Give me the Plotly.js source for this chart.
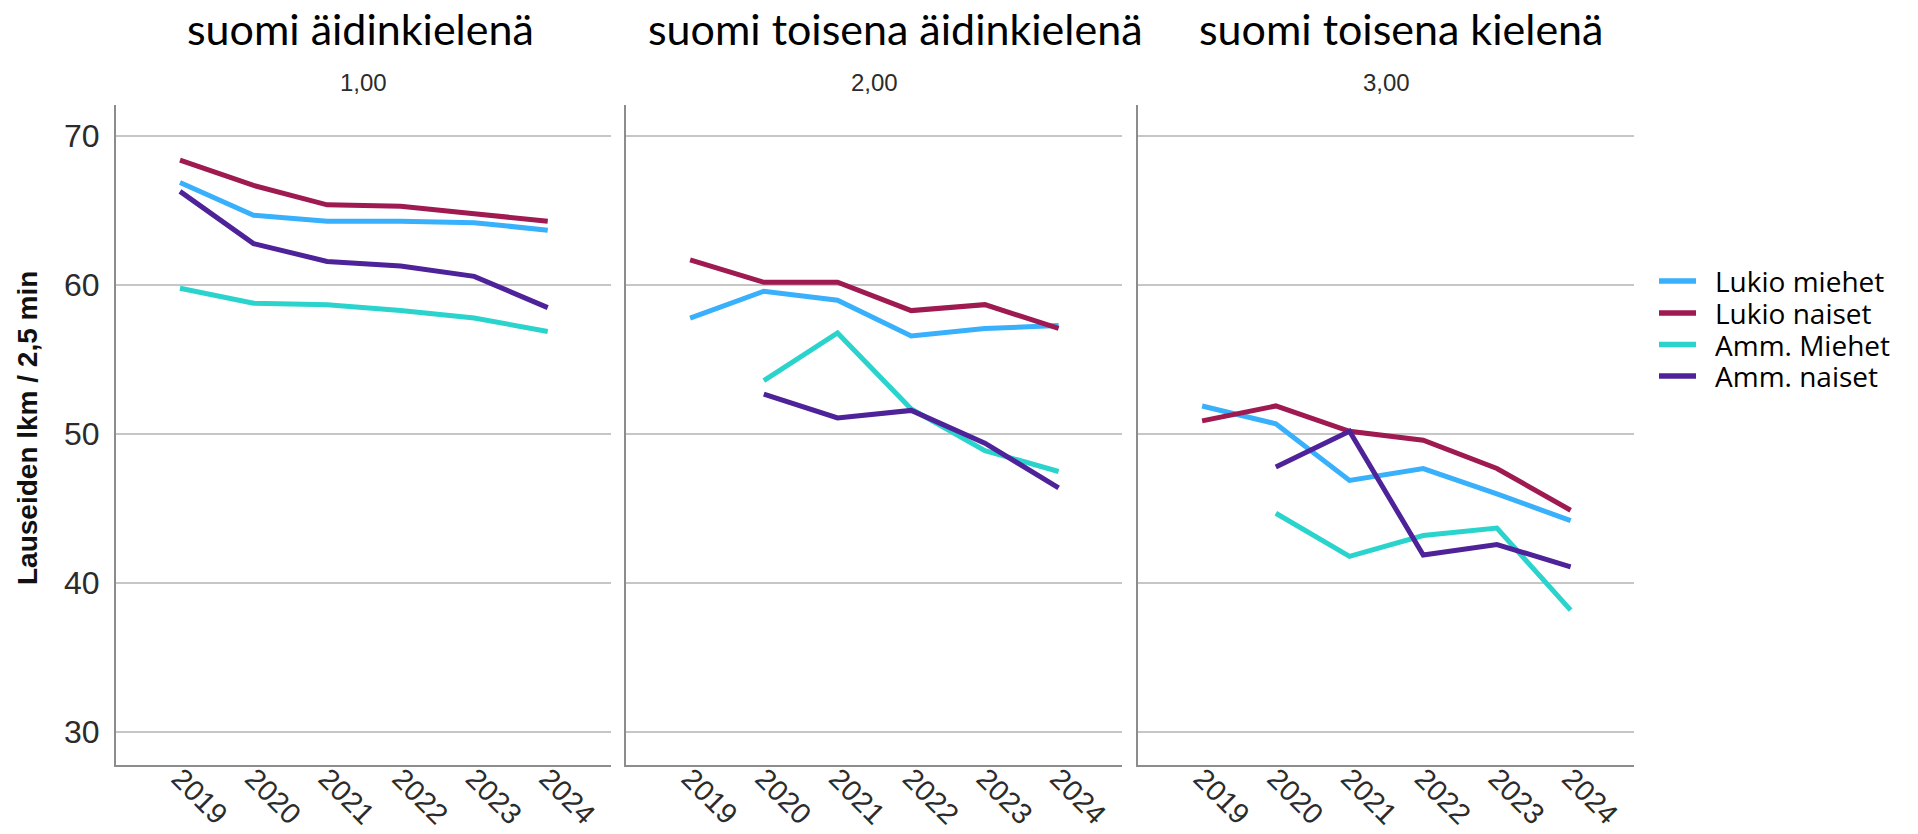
<!DOCTYPE html>
<html>
<head>
<meta charset="utf-8">
<script src="https://cdn.plot.ly/plotly-3.0.1.min.js"></script>
<style>html,body{margin:0;padding:0;background:#fff;}#chart{width:1918px;height:834px;}</style>
</head>
<body>
<div id="chart"></div>
<script>
// ---- data ----
const years = ['2019', '2020', '2021', '2022', '2023', '2024'];
const panelTitles = ['suomi äidinkielenä', 'suomi toisena äidinkielenä', 'suomi toisena kielenä'];
const panelLabels = ['1,00', '2,00', '3,00'];
const seriesNames = ['Lukio miehet', 'Lukio naiset', 'Amm. Miehet', 'Amm. naiset'];
const seriesColors = ['#38b0fb', '#9e1a50', '#2ad4cc', '#4e2298'];
const yTickVals = [30, 40, 50, 60, 70];

// values per panel (panel 1, panel 2, panel 3)
const lukioMiehet = [
  [66.9, 64.7, 64.3, 64.3, 64.2, 63.7],
  [57.8, 59.6, 59.0, 56.6, 57.1, 57.3],
  [51.9, 50.7, 46.9, 47.7, 46.0, 44.2]
];
const lukioNaiset = [
  [68.4, 66.7, 65.4, 65.3, 64.8, 64.3],
  [61.7, 60.2, 60.2, 58.3, 58.7, 57.1],
  [50.9, 51.9, 50.2, 49.6, 47.7, 44.9]
];
const ammMiehet = [
  [59.8, 58.8, 58.7, 58.3, 57.8, 56.9],
  [null, 53.6, 56.8, 51.7, 48.9, 47.5],
  [null, 44.7, 41.8, 43.2, 43.7, 38.2]
];
const ammNaiset = [
  [66.3, 62.8, 61.6, 61.3, 60.6, 58.5],
  [null, 52.7, 51.1, 51.6, 49.4, 46.4],
  [null, 47.8, 50.2, 41.9, 42.6, 41.1]
];
const allSeries = [lukioMiehet, lukioNaiset, ammMiehet, ammNaiset];

// ---- layout helpers (pixel geometry) ----
const W = 1918, H = 834;
const px = x => x / W;
const py = y => 1 - y / H;
const panelPx = [[116, 611], [626, 1122], [1138, 1634]];
const plotTop = 105, plotBottom = 765;
const titleCenters = [360, 895, 1401];

const narrowFam = '"Liberation Sans Narrow", "Arial Narrow", "Liberation Sans", Arial, sans-serif';
const tickFont = {family: narrowFam, size: 32, color: '#2b2b2b'};
const xTickFont = {family: '"Liberation Sans", Arial, sans-serif', size: 29, color: '#2b2b2b'};

const traces = [];
for (let p = 0; p < 3; p++) {
  const sfx = p === 0 ? '' : String(p + 1);
  allSeries.forEach((s, i) => {
    traces.push({
      type: 'scatter', mode: 'lines',
      x: years, y: s[p],
      name: seriesNames[i],
      xaxis: 'x' + sfx, yaxis: 'y' + sfx,
      line: {color: seriesColors[i], width: 5},
      connectgaps: false,
      showlegend: false,
      hoverinfo: 'x+y+name'
    });
  });
}

const layout = {
  width: W, height: H,
  margin: {l: 0, r: 0, t: 0, b: 0},
  paper_bgcolor: '#ffffff', plot_bgcolor: '#ffffff',
  showlegend: false,
  annotations: [],
  shapes: []
};

for (let p = 0; p < 3; p++) {
  const sfx = p === 0 ? '' : String(p + 1);
  layout['xaxis' + sfx] = {
    domain: [px(panelPx[p][0]), px(panelPx[p][1])],
    anchor: 'y' + sfx,
    type: 'category',
    categoryorder: 'array', categoryarray: years,
    range: [-0.87, 5.86],
    showgrid: false, zeroline: false,
    showline: true, linecolor: '#8c8c8c', linewidth: 2,
    ticks: '', tickangle: 45,
    tickfont: xTickFont,
    ticklabelstandoff: -17,
    fixedrange: true
  };
  layout['yaxis' + sfx] = {
    domain: [py(plotBottom), py(plotTop)],
    anchor: 'x' + sfx,
    range: [27.8, 72.1],
    tickvals: yTickVals,
    showticklabels: p === 0,
    tickfont: tickFont,
    ticklabelstandoff: 8,
    showgrid: true, gridcolor: '#c6c6c6', gridwidth: 2,
    zeroline: false,
    showline: true, linecolor: '#8c8c8c', linewidth: 2,
    ticks: '',
    fixedrange: true
  };
  layout.annotations.push({
    xref: 'paper', yref: 'paper', x: px(titleCenters[p]), y: py(28),
    xanchor: 'center', yanchor: 'middle', showarrow: false,
    text: panelTitles[p],
    font: {family: 'Lato, "Open Sans", sans-serif', size: 43, color: '#000000'}
  });
  layout.annotations.push({
    xref: 'paper', yref: 'paper', x: px((panelPx[p][0] + panelPx[p][1]) / 2), y: py(82),
    xanchor: 'center', yanchor: 'middle', showarrow: false,
    text: panelLabels[p],
    font: {family: narrowFam, size: 24, color: '#2b2b2b'}
  });
}

// y-axis title
layout.annotations.push({
  xref: 'paper', yref: 'paper', x: px(27), y: py(428),
  xanchor: 'center', yanchor: 'middle', showarrow: false, textangle: -90,
  text: '<b>Lauseiden lkm / 2,5 min</b>',
  font: {family: '"Liberation Sans", Arial, sans-serif', size: 28, color: '#111111'}
});

// legend (manual, for exact spacing)
const legRows = [281, 313, 344.5, 376];
seriesNames.forEach((n, i) => {
  layout.shapes.push({
    type: 'line', xref: 'paper', yref: 'paper',
    x0: px(1659), x1: px(1696), y0: py(legRows[i]), y1: py(legRows[i]),
    line: {color: seriesColors[i], width: 5.5}
  });
  layout.annotations.push({
    xref: 'paper', yref: 'paper', x: px(1713), y: py(legRows[i]),
    xanchor: 'left', yanchor: 'middle', showarrow: false,
    text: n,
    font: {family: '"Open Sans", "Noto Sans", sans-serif', size: 28, color: '#000000'}
  });
});

Plotly.newPlot('chart', traces, layout, {displayModeBar: false, staticPlot: true});
</script>
</body>
</html>
